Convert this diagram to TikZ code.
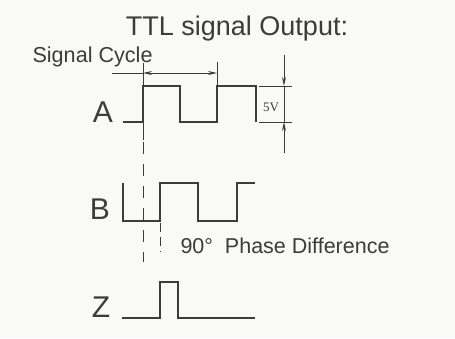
\documentclass[tikz,border=0pt]{standalone}
\usepackage{fontspec}
\setmainfont{Liberation Sans}
\newfontfamily\dimfont{Liberation Serif}
\usetikzlibrary{arrows.meta}
\definecolor{paper}{RGB}{249,249,247}
\definecolor{ink}{RGB}{60,60,60}
\begin{document}
\begin{tikzpicture}[x=1pt, y=-1pt,
    wave/.style={ink, line width=1.3pt},
    dimline/.style={ink, line width=1pt},
    dimarrow/.style={dimline, -{Stealth[length=9pt,width=4pt]}},
    chlabel/.style={ink, anchor=base, font=\fontsize{30}{32}\selectfont},
    note/.style={ink, anchor=base west, font=\fontsize{21.5}{24}\selectfont}]
  % paper
  \fill[paper] (0,0) rectangle (455,338);
  \useasboundingbox (0,0) rectangle (455,338);

  % title
  \node[ink, anchor=base, font=\fontsize{27}{30}\selectfont] (title) at (237,35) {TTL signal Output:};

  % channel A
  \node[chlabel] (labelA) at (103,122) {A};  % channel label
  \draw[wave] (123,122) -- (143,122) -- (143,86) -- (180,86) -- (180,122)
    -- (217,122) -- (217,86) -- (256,86) -- (256,122);  % square wave
  \draw[dimline] (143,63) -- (143,140);  % reference line
  \draw[dimline, dash pattern=on 12pt off 10pt] (143,142) -- (143,262);  % reference line, dashed
  \draw[dimline] (217,86) -- (217,62);  % extension line

  % signal cycle
  \node[note, font=\fontsize{21.6}{24}\selectfont] (cycle) at (29,62) {Signal Cycle};  % cycle label
  \draw[dimline] (112,73) -- (143,73);  % lead line
  \draw[dimline, {Stealth[length=9pt,width=4pt]}-{Stealth[length=9pt,width=4pt]}] (143,73) -- (217,73);  % cycle arrow

  % 5V level
  \draw[dimline] (259,86) -- (292,86);  % high level line
  \draw[dimline] (259,122) -- (292,122);  % low level line
  \draw[dimarrow] (284,55) -- (284,86);  % down arrow
  \draw[dimarrow] (284,153) -- (284,122);  % up arrow
  \draw[dimline] (284,86) -- (284,122);  % level line
  \node[ink, font=\dimfont\fontsize{13}{14}\selectfont] (volt) at (271,107) {5V};  % level label

  % channel B
  \node[chlabel] (labelB) at (100,219) {B};  % channel label
  \draw[wave] (123,183) -- (123,221) -- (160,221) -- (160,183) -- (198,183)
    -- (198,221) -- (237,221) -- (237,183) -- (255,183);  % square wave
  \draw[dimline, dash pattern=on 9pt off 5pt] (160,223) -- (160,252);  % phase line

  % phase difference
  \node[note] (phase) at (177,253) {90°\ \ Phase Difference};  % phase label

  % channel Z
  \node[chlabel] (labelZ) at (101,317) {Z};  % channel label
  \draw[wave] (122,318) -- (160,318) -- (160,282) -- (178,282) -- (178,318)
    -- (255,318);  % index pulse
\end{tikzpicture}
\end{document}
